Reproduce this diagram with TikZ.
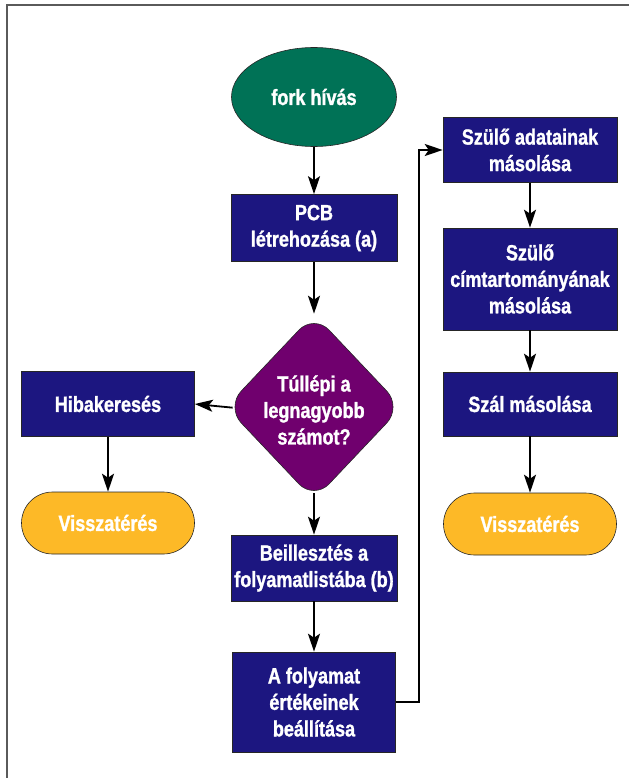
\documentclass[tikz,border=0pt]{standalone}
\usepackage{fontspec}
\setmainfont{Liberation Sans}
\newfontfamily\lblfont{Liberation Sans Bold}[FakeStretch=0.82, FakeBold=1.2]
\usetikzlibrary{arrows.meta,shapes.geometric}
\definecolor{cgreen}{RGB}{0,114,86}
\definecolor{cnavy}{RGB}{28,22,128}
\definecolor{cpurple}{RGB}{112,0,110}
\definecolor{corange}{RGB}{253,185,39}
\definecolor{cframe}{RGB}{90,90,90}
\begin{document}
\begin{tikzpicture}[x=1pt,y=-1pt,
  lbl/.style={text=white, font=\lblfont\fontsize{22}{26.5}\selectfont, align=center},
  box/.style={lbl, draw=black!85, line width=0.6pt, fill=cnavy, inner sep=0pt},
  startnode/.style={lbl, ellipse, draw=black!85, line width=0.6pt, fill=cgreen, inner sep=0pt, minimum width=165pt, minimum height=99pt},
  endnode/.style={lbl, draw=black!85, line width=0.6pt, fill=corange, rounded corners=31pt, inner sep=0pt, minimum width=173pt, minimum height=62pt},
  decision/.style={diamond, draw=black!85, line width=0.6pt, fill=cpurple, rounded corners=22pt, inner sep=0pt, minimum width=176pt, minimum height=186pt},
  flow/.style={draw=black, line width=1.8pt, -{Stealth[length=18pt,width=12pt,inset=4pt]}}
]
\useasboundingbox (0,0) rectangle (629,778);
\draw[cframe, line width=2pt] (7,778) -- (7,5) -- (629,5);

\node[startnode] (fork) at (314,97) {fork hívás};
\node[box, minimum width=166pt, minimum height=67pt] (pcb) at (314,228) {PCB\\létrehozása (a)};
\node[decision] (dec) at (314,407) {};
\node[lbl] (dectext) at (314,410) {Túllépi a\\legnagyobb\\számot?};
\node[box, minimum width=173pt, minimum height=65pt] (hiba) at (108,404) {Hibakeresés};
\node[endnode] (vissza1) at (108,523) {Visszatérés};
\node[box, minimum width=166pt, minimum height=66pt] (beill) at (314,568) {Beillesztés a\\folyamatlistába (b)};
\node[box, minimum width=163pt, minimum height=100pt] (afoly) at (314,702) {A folyamat\\értékeinek\\beállítása};
\node[box, minimum width=174pt, minimum height=65pt] (szulo1) at (530,150) {Szülő adatainak\\másolása};
\node[box, minimum width=174pt, minimum height=102pt] (szulo2) at (530,279) {Szülő\\címtartományának\\másolása};
\node[box, minimum width=174pt, minimum height=64pt] (szal) at (530,404) {Szál másolása};
\node[endnode] (vissza2) at (530,524) {Visszatérés};

\draw[flow] (fork) -- (pcb);
\draw[flow] (pcb) -- (dec);
\draw[flow, shorten <=-7pt] (dec.west) -- (hiba.east);
\draw[flow] (hiba) -- (vissza1);
\draw[flow, shorten <=-7pt] (dec.south) -- (beill.north);
\draw[flow] (beill) -- (afoly);
\draw[flow] (afoly.east) -- ++(23,0) |- (szulo1.west);
\draw[flow] (szulo1) -- (szulo2);
\draw[flow] (szulo2) -- (szal);
\draw[flow] (szal) -- (vissza2);
\end{tikzpicture}
\end{document}
